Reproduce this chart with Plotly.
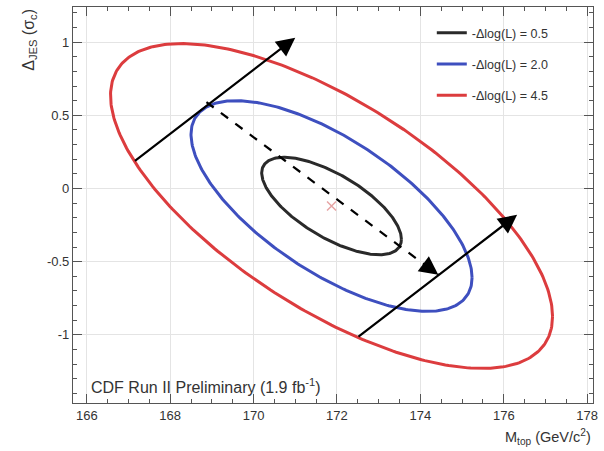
import numpy as np
import plotly.graph_objects as go

# Best-fit point of the (M_top, Delta_JES) likelihood
center_mtop = 171.87
center_jes = -0.12

# -Delta log(L) contour levels and the half-extents of each contour
levels = [0.5, 2.0, 4.5]
half_mtop = [1.675, 3.37, 5.30]    # GeV/c^2
half_jes = [0.333, 0.72, 1.11]     # sigma_c
rho = -0.68

level_labels = ["-Δlog(L) = %.1f" % lev for lev in levels]
level_colors = ["#2a2a2a", "#3e4fbf", "#dc3c3e"]

# Arrows: tail and head positions, dashed or solid
arrow_tail_m = [167.12, 168.87, 172.48]
arrow_tail_jes = [0.18, 0.59, -1.02]
arrow_head_m = [171.0, 174.43, 176.32]
arrow_head_jes = [1.03, -0.59, -0.18]
arrow_dashed = [False, True, False]

x_ticks = [166, 168, 170, 172, 174, 176, 178]
y_ticks = [-1, -0.5, 0, 0.5, 1]
y_tick_text = ["-1", "-0.5", "0", "0.5", "1"]

fig = go.Figure()

t = np.linspace(0, 2 * np.pi, 361)
for hm_, hj_, name, col in zip(half_mtop, half_jes, level_labels, level_colors):
    xs = center_mtop + hm_ * np.cos(t)
    ys = center_jes + hj_ * (rho * np.cos(t) + np.sqrt(1 - rho ** 2) * np.sin(t))
    fig.add_trace(go.Scatter(x=xs, y=ys, mode="lines", name=name, legendgroup=name,
                             line=dict(color=col, width=3)))

fig.add_trace(go.Scatter(x=[center_mtop], y=[center_jes], mode="markers", showlegend=False,
                         marker=dict(symbol="x-thin", size=9, line=dict(color="#e6a4a4", width=1.5))))

annotations = []
for tm, tj, hm, hj, dashed in zip(arrow_tail_m, arrow_tail_jes, arrow_head_m, arrow_head_jes, arrow_dashed):
    if dashed:
        fig.add_trace(go.Scatter(x=[tm, hm], y=[tj, hj], mode="lines", showlegend=False,
                                 line=dict(color="black", width=2.2, dash="dash")))
        am = hm - 0.04 * (hm - tm)
        aj = hj - 0.04 * (hj - tj)
    else:
        am, aj = tm, tj
    annotations.append(dict(x=hm, y=hj, ax=am, ay=aj, xref="x", yref="y", axref="x", ayref="y",
                            text="", showarrow=True, arrowhead=2, arrowsize=1.7, arrowwidth=2.2,
                            arrowcolor="black"))

font_family = "Liberation Sans, Arial, sans-serif"

annotations.append(dict(text="CDF Run II Preliminary (1.9 fb<sup>-1</sup>)", x=0.03, y=0.012,
                        xref="paper", yref="paper", xanchor="left", yanchor="bottom",
                        showarrow=False, font=dict(family=font_family, size=16, color="#333")))
annotations.append(dict(text="M<sub>top</sub> (GeV/c<sup>2</sup>)", x=1.0, y=-0.085,
                        xref="paper", yref="paper", xanchor="right", yanchor="middle",
                        showarrow=False, font=dict(family=font_family, size=14.5, color="#333")))
annotations.append(dict(text="Δ<sub>JES</sub> (σ<sub>c</sub>)", x=-0.085, y=1.0,
                        xref="paper", yref="paper", xanchor="center", yanchor="top",
                        textangle=-90, showarrow=False,
                        font=dict(family=font_family, size=16, color="#333")))

axis_common = dict(showline=True, linecolor="#555", linewidth=1.2, mirror="ticks",
                   ticks="inside", ticklen=9, tickcolor="#555", showgrid=True,
                   gridcolor="#e4e4e4", gridwidth=1, zeroline=False,
                   tickfont=dict(family=font_family, size=13, color="#333"))

fig.update_layout(
    width=604, height=451,
    margin=dict(l=73, r=6, t=6, b=48),
    plot_bgcolor="white", paper_bgcolor="white",
    xaxis=dict(range=[165.67, 178.14], tickvals=x_ticks,
               minor=dict(ticks="inside", ticklen=4, dtick=0.5, tickcolor="#555", showgrid=False),
               **axis_common),
    yaxis=dict(range=[-1.466, 1.24], tickvals=y_ticks, ticktext=y_tick_text,
               minor=dict(ticks="inside", ticklen=4, dtick=0.1, tickcolor="#555", showgrid=False),
               **axis_common),
    legend=dict(x=0.69, y=0.972, xanchor="left", yanchor="top", bgcolor="rgba(0,0,0,0)",
                tracegroupgap=12, font=dict(family=font_family, size=12.5, color="#333")),
    annotations=annotations,
    showlegend=True,
)

fig.write_html("out.html")
